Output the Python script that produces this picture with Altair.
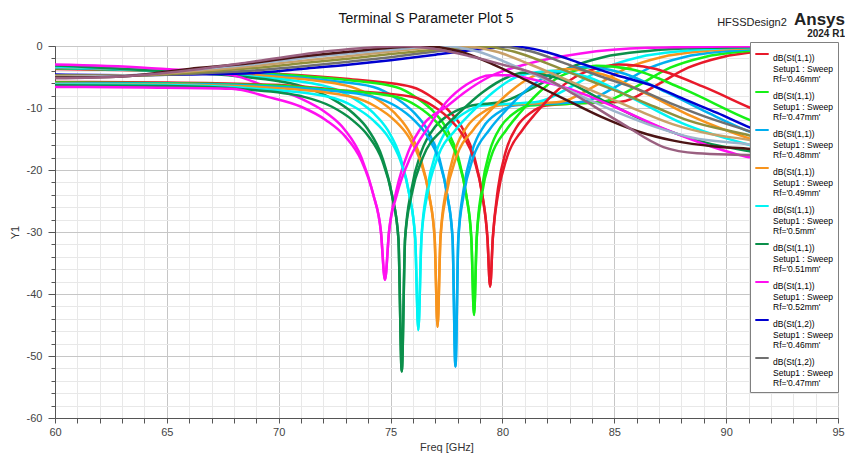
import altair as alt
import pandas as pd

RF = ["0.46", "0.47", "0.48", "0.49", "0.5", "0.51", "0.52"]
C_COLORS = ["#e8192a", "#16f016", "#00aeef", "#f7941d", "#00f4f4", "#0b8f4a", "#ff10f0"]
D_COLORS = ["#0000d0", "#707070", "#8f8f3c", "#c8a068", "#9cb4cc", "#4b1414", "#9a6080"]

# ---- dB(St(1,1)) : reflection, upper starting group ----
r1_f_046 = [60, 65, 70, 73, 75.95, 76.95, 77.7, 78.25, 78.75, 79.1, 79.33, 79.45, 79.57, 79.8, 80.15, 80.65, 81.25, 81.95, 83.5, 85.3, 86.8, 88.3, 89.8, 91.8, 94.3, 95]
r1_d_046 = [-3.7, -4.0, -4.5, -5.3, -6.6, -8.5, -10.8, -13.5, -18, -24, -31, -38.8, -31, -23, -17, -13, -10.8, -9.6, -9.2, -9.0, -6.5, -3.5, -1.8, -0.8, -0.3, -0.25]
r1_f_047 = [60, 65, 70, 72.5, 75.23, 76.23, 76.98, 77.53, 78.03, 78.38, 78.61, 78.73, 78.85, 79.08, 79.43, 79.93, 80.53, 81.23, 83.0, 84.5, 86.0, 87.5, 89.0, 91.0, 93.5, 95]
r1_d_047 = [-3.6, -4.0, -4.6, -5.3, -6.6, -8.5, -10.8, -13.5, -18, -24, -31, -43.4, -31, -23, -17, -13, -10.8, -9.6, -9.3, -9.0, -6.5, -3.5, -1.8, -0.8, -0.3, -0.2]
r1_f_048 = [60, 65, 70, 72, 74.23, 75.28, 76.06, 76.64, 77.17, 77.53, 77.77, 77.9, 78.03, 78.27, 78.64, 79.16, 79.79, 80.53, 82.0, 83.6, 85.1, 86.6, 88.1, 90.1, 92.6, 95]
r1_d_048 = [-3.5, -4.0, -4.8, -5.5, -6.6, -8.5, -10.8, -13.5, -18, -24, -31, -51.7, -31, -23, -17, -13, -10.8, -9.6, -9.3, -9.0, -6.5, -3.5, -1.8, -0.8, -0.3, -0.15]
r1_f_049 = [60, 65, 70, 73.25, 74.35, 75.18, 75.78, 76.33, 76.72, 76.97, 77.1, 77.23, 77.49, 77.87, 78.42, 79.08, 79.85, 81.2, 82.6, 84.1, 85.6, 87.1, 89.1, 91.6, 95]
r1_d_049 = [-3.4, -4.0, -5.0, -6.6, -8.5, -10.8, -13.5, -18, -24, -31, -45.3, -31, -23, -17, -13, -10.8, -9.6, -9.3, -9.0, -6.5, -3.5, -1.8, -0.8, -0.3, -0.1]
r1_f_050 = [60, 65, 69, 72.22, 73.37, 74.23, 74.86, 75.44, 75.84, 76.1, 76.24, 76.38, 76.64, 77.05, 77.62, 78.31, 79.12, 80.4, 81.6, 83.1, 84.6, 86.1, 88.1, 90.6, 95]
r1_d_050 = [-3.3, -4.05, -5.0, -6.6, -8.5, -10.8, -13.5, -18, -24, -31, -45.8, -31, -23, -17, -13, -10.8, -9.6, -9.3, -9.0, -6.5, -3.5, -1.8, -0.8, -0.3, -0.1]
r1_f_051 = [60, 65, 68.5, 71.13, 72.38, 73.31, 74.0, 74.63, 75.06, 75.35, 75.5, 75.65, 75.94, 76.38, 77.0, 77.75, 78.63, 80.0, 81.5, 83.0, 84.5, 86.5, 89, 95]
r1_d_051 = [-3.15, -4.1, -5.0, -6.6, -8.5, -10.8, -13.5, -18, -24, -31, -52.5, -31, -23, -17, -13, -10.8, -9.6, -9.0, -6.5, -3.5, -1.8, -0.8, -0.3, -0.05]
r1_f_052 = [60, 64, 67.9, 69.5, 71.0, 72.13, 72.95, 73.7, 74.23, 74.57, 74.75, 74.93, 75.28, 75.8, 76.5, 77.5, 78.3, 79.4, 81.2, 83.5, 86.5, 90, 95]
r1_d_052 = [-3.0, -3.5, -4.7, -6.6, -8.5, -10.8, -13.5, -18, -24, -30, -37.7, -30, -23, -17, -12.5, -9.8, -7.5, -5, -2.8, -1.2, -0.3, -0.1, 0]

# ---- dB(St(2,2)) : reflection, lower starting group ----
r2_f_046 = [60, 65, 70, 73, 75.95, 76.95, 77.7, 78.25, 78.75, 79.1, 79.33, 79.45, 79.57, 79.8, 80.2, 80.9, 81.5, 82.35, 83.25, 84.45, 85.2, 86.7, 89, 91.1, 93, 95]
r2_d_046 = [-5.8, -5.9, -6.3, -7.2, -8.2, -9.8, -12, -14.5, -18.5, -24, -31, -38.8, -31, -24, -18, -13.5, -10.8, -7.5, -5, -3.4, -3.0, -3.6, -6.6, -10, -12.8, -15]
r2_f_047 = [60, 65, 70, 72.5, 75.23, 76.23, 76.98, 77.53, 78.03, 78.38, 78.61, 78.73, 78.85, 79.08, 79.48, 80.18, 80.78, 81.63, 82.53, 83.73, 84.2, 85.8, 88.0, 91.1, 93.0, 95]
r2_d_047 = [-5.9, -6.0, -6.4, -7.1, -8.2, -9.8, -12, -14.5, -18.5, -24, -31, -43.4, -31, -24, -18, -13.5, -10.8, -7.5, -5, -3.5, -3.2, -3.8, -6.8, -12, -14.5, -16.2]
r2_f_048 = [60, 65, 70, 72, 74.23, 75.28, 76.06, 76.64, 77.17, 77.53, 77.77, 77.9, 78.03, 78.27, 78.69, 79.42, 80.05, 80.95, 81.9, 83.1, 83.6, 85.2, 87.3, 89.2, 91.1, 93, 95]
r2_d_048 = [-6.0, -6.1, -6.6, -7.1, -8.2, -9.8, -12, -14.5, -18.5, -24, -31, -51.7, -31, -24, -18, -13.5, -10.8, -7.5, -5, -3.6, -3.4, -4.2, -7.4, -10.8, -13.9, -16, -17.2]
r2_f_049 = [60, 65, 70, 73.25, 74.35, 75.18, 75.78, 76.33, 76.72, 76.97, 77.1, 77.23, 77.49, 77.93, 78.7, 79.36, 80.3, 81.3, 82.5, 82.9, 84.5, 86.5, 88.5, 91.1, 93, 95]
r2_d_049 = [-6.1, -6.2, -6.8, -8.2, -9.8, -12, -14.5, -18.5, -24, -31, -45.3, -31, -24, -18, -13.5, -10.8, -7.5, -5, -3.9, -3.7, -4.6, -7.8, -11.4, -15, -17, -18]
r2_f_050 = [60, 65, 69, 72.22, 73.37, 74.23, 74.86, 75.44, 75.84, 76.1, 76.24, 76.38, 76.64, 77.1, 77.91, 78.6, 79.57, 80.61, 81.84, 82.2, 83.8, 85.8, 88.0, 91.1, 93, 95]
r2_d_050 = [-6.2, -6.3, -6.9, -8.2, -9.8, -12, -14.5, -18.5, -24, -31, -45.8, -31, -24, -18, -13.5, -10.8, -7.5, -5, -4.1, -4.0, -5.0, -8.4, -12.4, -16, -17.6, -18.4]
r2_f_051 = [60, 65, 68.5, 71.13, 72.38, 73.31, 74.0, 74.63, 75.06, 75.35, 75.5, 75.65, 75.94, 76.44, 77.31, 78.06, 79.1, 80.25, 80.9, 82.5, 84.5, 86.8, 89, 91.1, 93, 95]
r2_d_051 = [-6.35, -6.45, -7.0, -8.2, -9.8, -12, -14.5, -18.5, -24, -31, -52.5, -31, -24, -18, -13.5, -10.8, -7.5, -5, -4.3, -5.2, -8.8, -12.8, -15.5, -17, -18, -18.6]
r2_f_052 = [60, 64, 67.9, 69.5, 71.0, 72.13, 72.95, 73.7, 74.23, 74.57, 74.75, 74.93, 75.28, 75.88, 76.7, 77.5, 78.4, 79.5, 80.2, 81.5, 82.9, 85, 87, 89, 91.1, 93, 95]
r2_d_052 = [-6.6, -6.7, -6.9, -8.2, -9.8, -12, -14.5, -18.5, -24, -30, -37.7, -30, -24, -18, -13, -9, -6.2, -4.7, -4.7, -5.5, -6.8, -9.8, -13, -15.8, -18.0, -18.8, -19.2]

# ---- dB(St(1,2)) : transmission ----
t_f_046 = [60, 63, 66, 68.7, 71, 73.2, 75, 77, 78.8, 80.5, 82, 83.5, 85, 86.7, 88.2, 89.6, 91.1, 93, 95]
t_d_046 = [-4.6, -4.7, -4.6, -4.4, -3.7, -3.0, -2.3, -1.4, -0.6, -0.1, -1.0, -2.8, -4.6, -6.4, -8.7, -10.8, -13.2, -15.5, -17]
t_f_047 = [60, 63, 66, 68.7, 71, 73.2, 75, 77, 78.5, 79.8, 81.3, 82.8, 84.3, 86, 87.5, 89, 91.1, 93, 95]
t_d_047 = [-4.7, -4.8, -4.5, -4.0, -3.3, -2.5, -1.8, -0.9, -0.3, -0.05, -0.9, -2.8, -4.8, -6.9, -9.2, -11.3, -13.8, -16, -17.3]
t_f_048 = [60, 63, 66, 68.7, 71, 73.2, 75, 77, 79.0, 80.5, 82, 83.5, 85.2, 86.8, 88.3, 91.1, 93, 95]
t_d_048 = [-4.8, -4.8, -4.3, -3.6, -2.8, -2.0, -1.3, -0.6, -0.05, -0.9, -2.8, -5.0, -7.4, -9.8, -12, -14.5, -16.5, -17.7]
t_f_049 = [60, 63, 66, 68.7, 71, 73.2, 75, 76.8, 78.2, 79.7, 81.2, 82.7, 84.4, 86, 87.6, 89.3, 91.1, 93, 95]
t_d_049 = [-4.9, -4.8, -4.1, -3.3, -2.4, -1.6, -0.9, -0.3, -0.05, -0.9, -2.9, -5.2, -7.8, -10.3, -12.6, -14.2, -15.2, -16.8, -18]
t_f_050 = [60, 63, 66, 68.7, 71, 73.2, 75, 77.4, 78.9, 80.4, 81.9, 83.6, 85.2, 86.8, 88.5, 91.1, 93, 95]
t_d_050 = [-5.0, -4.8, -3.9, -3.0, -2.0, -1.2, -0.6, -0.05, -0.9, -3.0, -5.4, -8.2, -10.8, -13, -14.8, -15.9, -17.2, -18.2]
t_f_051 = [60, 63, 66, 68.7, 71, 73.2, 75, 76.6, 78.1, 79.6, 81.1, 82.8, 84.4, 86, 87.7, 89.5, 91.1, 93, 95]
t_d_051 = [-5.1, -4.9, -3.7, -2.8, -1.7, -0.9, -0.3, -0.05, -0.9, -3.0, -5.6, -8.6, -11.4, -13.7, -15.3, -16.2, -16.6, -17.5, -18.3]
t_f_052 = [60, 63, 66, 68.7, 71, 73.2, 75.6, 77, 78.5, 80, 81.7, 83.3, 85.3, 87.2, 88.7, 91.1, 93, 95]
t_d_052 = [-5.2, -4.9, -3.9, -2.6, -1.4, -0.5, -0.05, -0.5, -1.6, -3.0, -4.8, -8.0, -12.4, -16.3, -17.3, -17.6, -18, -18.4]

R1 = [(r1_f_046, r1_d_046), (r1_f_047, r1_d_047), (r1_f_048, r1_d_048), (r1_f_049, r1_d_049),
      (r1_f_050, r1_d_050), (r1_f_051, r1_d_051), (r1_f_052, r1_d_052)]
R2 = [(r2_f_046, r2_d_046), (r2_f_047, r2_d_047), (r2_f_048, r2_d_048), (r2_f_049, r2_d_049),
      (r2_f_050, r2_d_050), (r2_f_051, r2_d_051), (r2_f_052, r2_d_052)]
T = [(t_f_046, t_d_046), (t_f_047, t_d_047), (t_f_048, t_d_048), (t_f_049, t_d_049),
     (t_f_050, t_d_050), (t_f_051, t_d_051), (t_f_052, t_d_052)]


def key(param, rf):
    return f"dB({param})|Setup1 : Sweep|Rf='{rf}mm'"


rows = []
domain, rng = [], []
order = 0
for group, param, colors in [(R1, "St(1,1)", C_COLORS), (R2, "St(2,2)", C_COLORS), (T, "St(1,2)", D_COLORS)]:
    for i, (fs, ds) in enumerate(group):
        k = key(param, RF[i])
        domain.append(k)
        rng.append(colors[i])
        for f, d in zip(fs, ds):
            rows.append({"freq": f, "db": d, "trace": k, "ord": order})
        order += 1
df = pd.DataFrame(rows)

legend_values = [key("St(1,1)", r) for r in RF] + [key("St(1,2)", r) for r in RF[:2]]

FONT = "Liberation Sans"
TITLE = "Terminal S Parameter Plot 5"

x_axis = alt.Axis(
    values=list(range(60, 96)),
    labelExpr="datum.value % 5 === 0 ? '' + datum.value : ''",
    gridColor={"condition": {"test": "datum.value % 5 === 0", "value": "#c6c6c6"}, "value": "#e8e8e8"},
    tickSize=5, tickColor="#555", domainColor="#555", labelFlush=False, labelOverlap=False,
    labelFont=FONT, labelFontSize=11, labelColor="#444", labelPadding=3,
    title="Freq [GHz]", titleFont=FONT, titleFontSize=11, titleFontWeight="normal", titleColor="#333",
    titlePadding=4,
)
y_axis = alt.Axis(
    values=list(range(-60, 1, 2)),
    labelExpr="datum.value % 10 === 0 ? '' + datum.value : ''",
    gridColor={"condition": {"test": "datum.value % 10 === 0", "value": "#c6c6c6"}, "value": "#e8e8e8"},
    tickSize={"condition": {"test": "datum.value % 10 === 0", "value": 7}, "value": 4},
    tickColor="#555", domainColor="#555", labelOverlap=False,
    labelFont=FONT, labelFontSize=11, labelColor="#444", labelPadding=6,
    title="Y1", titleFont=FONT, titleFontSize=11, titleFontWeight="normal", titleColor="#333",
    titlePadding=6,
)

lines = alt.Chart(df).mark_line(strokeWidth=2.5, interpolate="monotone", clip=True).encode(
    x=alt.X("freq:Q", scale=alt.Scale(domain=[60, 95], nice=False, zero=False), axis=x_axis),
    y=alt.Y("db:Q", scale=alt.Scale(domain=[-60, 0], nice=False), axis=y_axis),
    color=alt.Color(
        "trace:N",
        scale=alt.Scale(domain=domain, range=rng),
        legend=alt.Legend(
            orient="none", legendX=695, legendY=-4, values=legend_values,
            labelExpr="split(datum.label, '|')", title=None,
            symbolType="stroke", symbolStrokeWidth=2, symbolSize=180,
            fillColor="white", strokeColor="#808080", padding=4,
            labelFont=FONT, labelFontSize=8.5, labelColor="#000", labelLimit=200,
            labelOffset=3, labelBaseline="top", rowPadding=0, zindex=1,
        ),
    ),
    detail="trace:N",
    order="ord:Q",
)

ann0 = pd.DataFrame({"t": [TITLE]})
t0 = alt.Chart(ann0).mark_text(font=FONT, fontSize=14, color="#111", align="center", baseline="alphabetic").encode(
    text="t:N", x=alt.value(371), y=alt.value(-23))
ann = pd.DataFrame({"t": ["HFSSDesign2"]})
t1 = alt.Chart(ann).mark_text(font=FONT, fontSize=11, color="#222", align="center", baseline="alphabetic").encode(
    text="t:N", x=alt.value(697), y=alt.value(-20))
ann2 = pd.DataFrame({"t": ["Ansys"]})
t2 = alt.Chart(ann2).mark_text(font=FONT, fontSize=17, fontWeight="bold", color="#222", align="right", baseline="alphabetic").encode(
    text="t:N", x=alt.value(790), y=alt.value(-21))
ann3 = pd.DataFrame({"t": ["2024 R1"]})
t3 = alt.Chart(ann3).mark_text(font=FONT, fontSize=10, fontWeight="bold", color="#222", align="right", baseline="alphabetic").encode(
    text="t:N", x=alt.value(790), y=alt.value(-9))

chart = alt.layer(lines, t0, t1, t2, t3).properties(
    width=783, height=372,
    padding={"left": 55, "top": 46, "right": 7, "bottom": 36},
    autosize=alt.AutoSizeParams(type="none"),
).configure_view(stroke="#555", strokeWidth=1)

chart.save("out.html", embed_options={"renderer": "svg", "actions": False})
